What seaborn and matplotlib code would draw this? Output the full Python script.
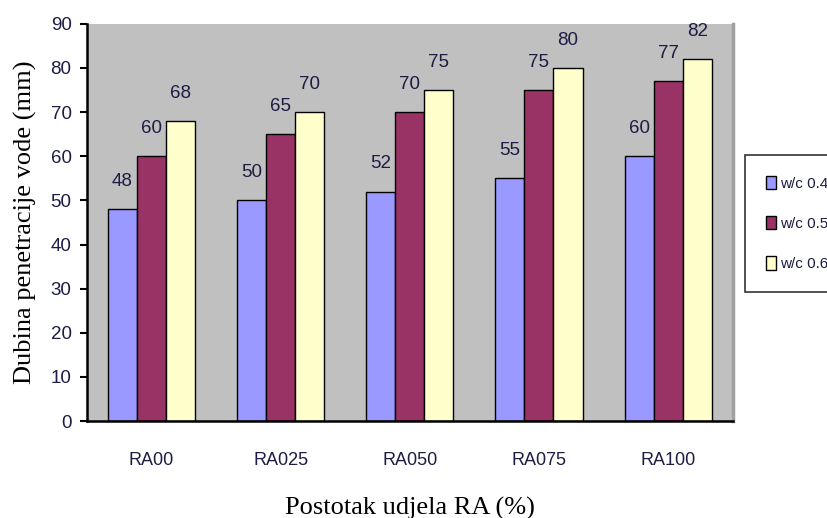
import pandas as pd
import matplotlib
matplotlib.use('Agg')
import matplotlib.pyplot as plt
import seaborn as sns

# podaci sa grafikona
kategorije = ['RA00', 'RA025', 'RA050', 'RA075', 'RA100']
serije = ['w/c 0.4', 'w/c 0.5', 'w/c 0.6']
wc04 = [48, 50, 52, 55, 60]
wc05 = [60, 65, 70, 75, 77]
wc06 = [68, 70, 75, 80, 82]
y_ticks = [0, 10, 20, 30, 40, 50, 60, 70, 80, 90]

boje = ['#9999ff', '#993366', '#ffffcc']

df = pd.DataFrame({
    'RA': kategorije * 3,
    'wc': [serije[0]] * 5 + [serije[1]] * 5 + [serije[2]] * 5,
    'dubina': wc04 + wc05 + wc06,
})

sns.set_style('white')
plt.rcParams['font.family'] = ['Liberation Sans', 'DejaVu Sans']
serif = ['Liberation Serif', 'DejaVu Serif']

fig = plt.figure(figsize=(8.27, 5.18), dpi=100)
ax = fig.add_axes([0.105, 0.187, 0.781, 0.767])
ax.set_facecolor('#c0c0c0')

sns.barplot(data=df, x='RA', y='dubina', hue='wc', palette=boje, width=0.675,
            edgecolor='black', linewidth=1, saturation=1, ax=ax)

tekst_boja = '#1c1c44'
for cont in ax.containers:
    ax.bar_label(cont, fmt='%d', padding=14, fontsize=13.5, color=tekst_boja)

ax.set_xlim(-0.5, 4.5)
ax.set_ylim(0, 90)
ax.set_yticks(y_ticks)
ax.set_yticklabels([str(t) for t in y_ticks], fontsize=13.5, color=tekst_boja)

# x oznake u sredini, crtice na granicama kategorija
ax.set_xticks(range(len(kategorije)))
ax.set_xticklabels(kategorije, fontsize=13, color=tekst_boja)
ax.set_xticks([i - 0.5 for i in range(len(kategorije) + 1)], minor=True)
ax.tick_params(axis='x', which='major', length=0, pad=22)
ax.tick_params(axis='x', which='minor', length=7, width=1.5, color='black', direction='out')
ax.tick_params(axis='y', length=5, width=1.5, color='black', direction='out', pad=6, left=True)

for s in ['left', 'bottom']:
    ax.spines[s].set_color('black')
    ax.spines[s].set_linewidth(1.8)
ax.spines['top'].set_visible(False)
ax.spines['right'].set_color('#a0a0a0')
ax.spines['right'].set_linewidth(2.5)

ax.set_ylabel('Dubina penetracije vode (mm)', family=serif, fontsize=19, color='black', labelpad=10)
ax.set_xlabel('Postotak udjela RA (%)', family=serif, fontsize=19, color='black', labelpad=20)

# legenda desno, okvir ide do ruba slike
leg = ax.legend(loc='upper left', bbox_to_anchor=(0.901, 0.701), bbox_transform=fig.transFigure,
                fontsize=11, frameon=True, fancybox=False, edgecolor='black',
                handlelength=0.65, handleheight=1.0, handletextpad=0.3, labelspacing=1.65,
                borderpad=1.35, borderaxespad=0)
for t in leg.get_texts():
    t.set_color(tekst_boja)
leg.get_frame().set_linewidth(1.2)
leg.set_title(None)

plt.savefig('out.png', dpi=100)
plt.close()
